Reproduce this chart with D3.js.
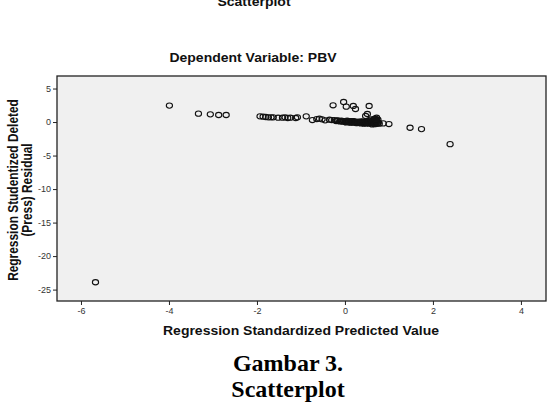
<!DOCTYPE html>
<html>
<head>
<meta charset="utf-8">
<script src="https://cdn.jsdelivr.net/npm/d3@7"></script>
<style>
  body { margin: 0; background: #fff; }
  svg text { font-family: Arial, "Liberation Sans", sans-serif; }
</style>
</head>
<body>
<div id="chart"></div>
<script>
// Data
const predicted = [
    -5.67, -3.99, -3.33, -3.06, -2.87, -2.70,
    -1.93, -1.86, -1.80, -1.74, -1.68, -1.63, -1.52, -1.42, -1.36, -1.30, -1.24, -1.12, -1.08,
    -0.88, -0.74, -0.64, -0.58, -0.52, -0.45, -0.35, -0.30,
    -0.24, -0.20, -0.16, -0.12, -0.08, -0.05, -0.02, 0.01, 0.03, 0.05, 0.08, 0.10, 0.12, 0.14,
    0.16, 0.18, 0.20, 0.22, 0.24, 0.26, 0.28, 0.30, 0.32, 0.34, 0.36, 0.38, 0.40, 0.42, 0.44,
    0.46, 0.48, 0.50, 0.52, 0.54, 0.56, 0.58, 0.60, 0.62, 0.64, 0.66, 0.68, 0.70, 0.72, 0.74,
    0.76, 0.78,
    -0.18, -0.10, 0.00, 0.06, 0.13, 0.19, 0.25, 0.31, 0.37, 0.43, 0.49, 0.55, 0.61, 0.67, 0.73,
    0.60, 0.68, 0.75, 0.62, 0.70, 0.65, 0.70,
    0.87, 1.00, 1.48, 1.74, 2.39,
    -0.27, -0.03, 0.03, 0.19, 0.24, 0.55, 0.51, 0.47, 0.72
];
const residual = [
    -23.9, 2.45, 1.25, 1.15, 1.05, 1.05,
    0.85, 0.80, 0.75, 0.70, 0.70, 0.70, 0.65, 0.65, 0.70, 0.60, 0.65, 0.60, 0.70,
    0.85, 0.30, 0.45, 0.50, 0.40, 0.25, 0.35, 0.30,
    0.30, 0.15, 0.25, 0.10, 0.20, 0.05, 0.15, 0.10, -0.05, 0.20, 0.05, 0.10, -0.10, 0.15,
    0.00, 0.05, -0.10, 0.10, -0.05, 0.00, -0.15, 0.05, -0.10, 0.00, -0.20, -0.05, 0.05, -0.15, -0.10,
    0.05, -0.20, -0.05, 0.10, -0.25, -0.10, 0.00, -0.20, 0.15, -0.10, -0.25, 0.05, -0.15, 0.20, -0.20,
    -0.05, -0.25,
    0.20, 0.15, 0.00, 0.10, -0.05, 0.15, -0.15, -0.05, 0.10, -0.25, 0.00, 0.20, -0.05, -0.30, 0.10,
    0.40, 0.50, 0.35, -0.35, -0.30, 0.35, 0.45,
    -0.20, -0.30, -0.85, -1.05, -3.30,
    2.50, 3.00, 2.30, 2.40, 1.95, 2.40, 1.20, 0.90, 0.64
];
const xTicks = [-6, -4, -2, 0, 2, 4];
const yTicks = [5, 0, -5, -10, -15, -20, -25];

const data = predicted.map((p, i) => ({ x: p, y: residual[i] }));

const width = 555;
const height = 416;
const plot = { left: 57, right: 546, top: 76, bottom: 301 };

const svg = d3.select("#chart")
    .append("svg")
    .attr("width", width)
    .attr("height", height);

const x = d3.scaleLinear().domain([-6.545, 4.57]).range([plot.left, plot.right]);
const y = d3.scaleLinear().domain([-26.7, 6.87]).range([plot.bottom, plot.top]);

// Plot background and frame
svg.append("rect")
    .attr("x", plot.left)
    .attr("y", plot.top)
    .attr("width", plot.right - plot.left)
    .attr("height", plot.bottom - plot.top)
    .attr("fill", "#f0f0f0")
    .attr("stroke", "#222")
    .attr("stroke-width", 1.3);

// Axes
const xAxis = svg.append("g")
    .attr("transform", `translate(0,${plot.bottom})`)
    .call(d3.axisBottom(x).tickValues(xTicks).tickSize(4).tickPadding(3).tickFormat(d => d));

const yAxis = svg.append("g")
    .attr("transform", `translate(${plot.left},0)`)
    .call(d3.axisLeft(y).tickValues(yTicks).tickSize(4).tickPadding(2).tickFormat(d => d));

[xAxis, yAxis].forEach(g => {
    g.select(".domain").remove();
    g.selectAll(".tick line").attr("stroke", "#222");
    g.selectAll(".tick text")
        .attr("fill", "#333")
        .style("font-size", "9px")
        .style("font-family", "Arial, 'Liberation Sans', sans-serif");
});

// Points
svg.append("g")
    .selectAll("ellipse")
    .data(data)
    .enter()
    .append("ellipse")
    .attr("cx", d => x(d.x))
    .attr("cy", d => y(d.y))
    .attr("rx", 3.1)
    .attr("ry", 2.6)
    .attr("fill", "none")
    .attr("stroke", "#111")
    .attr("stroke-width", 1.1);

// Titles (the source picture is squashed vertically)
function squashed(tx, ty, rot, txt, size) {
    const t = svg.append("text")
        .attr("transform", rot
            ? `translate(${tx},${ty}) rotate(-90) scale(0.85,1)`
            : `translate(${tx},${ty}) scale(1,0.85)`)
        .attr("text-anchor", "middle")
        .attr("font-weight", "bold")
        .style("font-size", size + "px")
        .attr("fill", "#111")
        .text(txt);
    return t;
}

squashed(254, 6, false, "Scatterplot", 14);
squashed(253, 62, false, "Dependent Variable: PBV", 14);
squashed(301, 335, false, "Regression Standardized Predicted Value", 14);
squashed(18, 190, true, "Regression Studentized Deleted", 14);
squashed(32, 190, true, "(Press) Residual", 14);

// Caption below the chart
const caption = ["Gambar 3.", "Scatterplot"];
svg.selectAll("text.caption")
    .data(caption)
    .enter()
    .append("text")
    .attr("class", "caption")
    .attr("x", 288)
    .attr("y", (d, i) => 371 + i * 26)
    .attr("text-anchor", "middle")
    .style("font-family", "'Liberation Serif', 'Times New Roman', serif")
    .style("font-size", "24px")
    .attr("font-weight", "bold")
    .attr("fill", "#000")
    .text(d => d);
</script>
</body>
</html>
